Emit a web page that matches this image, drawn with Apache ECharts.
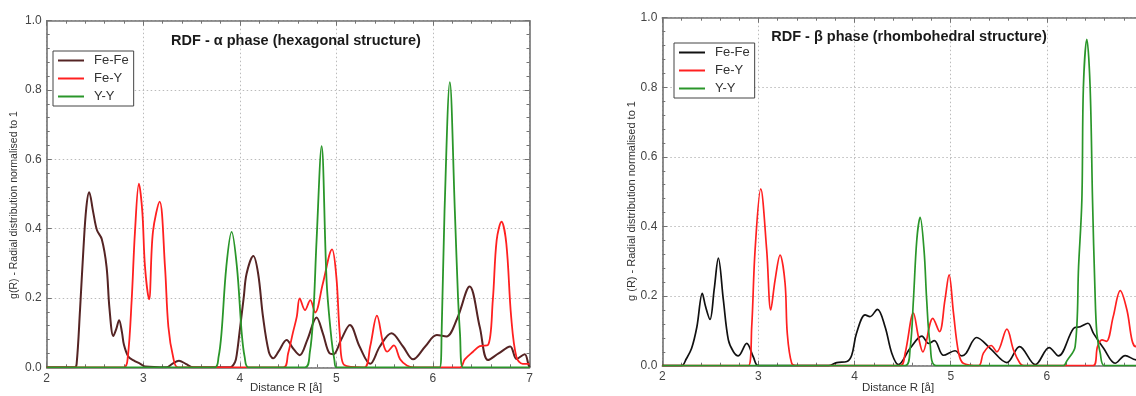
<!DOCTYPE html>
<html><head><meta charset="utf-8">
<script src="https://cdn.jsdelivr.net/npm/echarts@6/dist/echarts.min.js"></script>
<style>html,body{margin:0;padding:0;background:#fff}#c{width:1136px;height:396px}</style>
</head><body><div id="c"></div>
<script>
// ---- data ----
const xTicks = [2, 3, 4, 5, 6, 7];
const yTicks = [0.0, 0.2, 0.4, 0.6, 0.8, 1.0];
const seriesNames = ['Fe-Fe', 'Fe-Y', 'Y-Y'];
const titleAlpha = 'RDF - α phase (hexagonal structure)';
const titleBeta = 'RDF - β phase (rhombohedral structure)';
const yNameAlpha = 'g(R) - Radial distribution normalised to 1';
const yNameBeta = 'g (R) - Radial distribution normalised to 1';
const xName = 'Distance R [å]';

const alphaFeFe = [[2.0,0],[2.29,0],[2.31,0.01],[2.345,0.165],[2.38,0.34],[2.41,0.46],[2.44,0.505],[2.48,0.45],[2.52,0.396],[2.57,0.37],[2.62,0.29],[2.65,0.17],[2.69,0.09],[2.72,0.11],[2.75,0.136],[2.78,0.10],[2.80,0.065],[2.845,0.031],[2.90,0.02],[2.97,0.01],[3.02,0.002],[3.24,0],[3.30,0.01],[3.37,0.019],[3.44,0.01],[3.52,0],[3.90,0],[3.95,0.015],[3.97,0.04],[4.0,0.108],[4.04,0.2],[4.07,0.27],[4.14,0.321],[4.19,0.27],[4.24,0.146],[4.30,0.045],[4.345,0.026],[4.40,0.045],[4.485,0.079],[4.55,0.055],[4.62,0.035],[4.70,0.08],[4.795,0.144],[4.86,0.098],[4.93,0.04],[4.97,0.038],[5.05,0.08],[5.14,0.122],[5.24,0.06],[5.35,0.01],[5.45,0.06],[5.57,0.098],[5.69,0.06],[5.795,0.023],[5.92,0.06],[6.04,0.093],[6.14,0.089],[6.25,0.14],[6.38,0.233],[6.485,0.116],[6.57,0.021],[6.68,0.04],[6.80,0.06],[6.865,0.024],[6.95,0.038],[6.99,0.007],[7.0,0]];
const alphaFeY = [[2.0,0],[2.80,0],[2.84,0.03],[2.88,0.194],[2.914,0.39],[2.955,0.53],[2.99,0.45],[3.018,0.29],[3.06,0.196],[3.10,0.39],[3.17,0.478],[3.225,0.29],[3.26,0.117],[3.31,0.029],[3.36,0],[4.45,0],[4.50,0.04],[4.55,0.10],[4.59,0.146],[4.62,0.199],[4.675,0.165],[4.73,0.194],[4.78,0.158],[4.86,0.242],[4.955,0.34],[5.0,0.26],[5.035,0.098],[5.08,0.007],[5.29,0],[5.35,0.06],[5.42,0.149],[5.485,0.068],[5.525,0.045],[5.595,0.063],[5.66,0.023],[5.73,0.005],[5.8,0],[6.28,0],[6.33,0.023],[6.415,0.045],[6.485,0.061],[6.57,0.064],[6.62,0.194],[6.66,0.367],[6.71,0.42],[6.76,0.357],[6.81,0.146],[6.865,0.029],[6.93,0.01],[7.0,0.01]];
const alphaYY = [[2.0,0],[3.74,0],[3.78,0.03],[3.81,0.098],[3.86,0.29],[3.915,0.391],[3.97,0.29],[4.02,0.098],[4.05,0.03],[4.09,0],[4.675,0],[4.725,0.043],[4.76,0.146],[4.795,0.367],[4.847,0.638],[4.90,0.242],[4.95,0.079],[4.98,0.02],[5.0,0],[6.07,0],[6.09,0.1],[6.12,0.45],[6.175,0.823],[6.227,0.45],[6.26,0.2],[6.28,0.098],[6.31,0],[7.0,0]];

const betaFeFe = [[2.0,0],[2.20,0],[2.25,0.02],[2.305,0.05],[2.36,0.112],[2.416,0.208],[2.45,0.17],[2.496,0.133],[2.54,0.22],[2.583,0.309],[2.635,0.189],[2.687,0.074],[2.74,0.04],[2.79,0.028],[2.878,0.064],[2.947,0.025],[3.0,0],[3.73,0],[3.815,0.009],[3.92,0.012],[3.97,0.03],[4.02,0.093],[4.11,0.146],[4.16,0.141],[4.237,0.162],[4.317,0.112],[4.387,0.036],[4.456,0.003],[4.578,0.05],[4.70,0.085],[4.77,0.064],[4.83,0.072],[4.925,0.03],[5.046,0.043],[5.115,0.028],[5.16,0.036],[5.27,0.081],[5.41,0.05],[5.584,0.009],[5.716,0.055],[5.88,0.003],[6.024,0.052],[6.12,0.028],[6.277,0.107],[6.347,0.112],[6.427,0.122],[6.485,0.093],[6.59,0.05],[6.71,0.007],[6.815,0.029],[6.93,0.017],[7.0,0.02]];
const betaFeY = [[2.0,0],[2.895,0],[2.93,0.112],[2.965,0.332],[3.024,0.508],[3.086,0.332],[3.128,0.16],[3.173,0.246],[3.225,0.318],[3.277,0.237],[3.30,0.093],[3.346,0.007],[3.40,0],[4.473,0],[4.526,0.036],[4.612,0.151],[4.664,0.083],[4.71,0.04],[4.814,0.136],[4.883,0.098],[4.94,0.189],[4.983,0.261],[5.028,0.153],[5.08,0.04],[5.13,0.007],[5.29,0],[5.34,0.036],[5.42,0.058],[5.48,0.04],[5.584,0.105],[5.653,0.045],[5.72,0.007],[5.76,0],[6.48,0],[6.527,0.055],[6.573,0.074],[6.62,0.07],[6.69,0.141],[6.763,0.216],[6.833,0.16],[6.885,0.074],[6.92,0.055],[6.96,0.08],[7.0,0.12]];
const betaYY = [[2.0,0],[4.526,0],[4.578,0.05],[4.612,0.189],[4.647,0.361],[4.682,0.426],[4.723,0.33],[4.75,0.189],[4.785,0.064],[4.85,0],[6.17,0],[6.208,0.014],[6.294,0.055],[6.33,0.285],[6.364,0.476],[6.38,0.8],[6.416,0.938],[6.45,0.8],[6.475,0.476],[6.50,0.22],[6.52,0.093],[6.555,0.036],[6.6,0],[7.0,0]];

// ---- chart ----
const FONT = 'Liberation Sans, Arial, sans-serif';
const axisCol = '#727272';
const colors = { alphaFeFe: '#552424', betaFeFe: '#111111', feY: '#ff2020', yy: '#2a962a' };

function xAx(grid, pos, labels) {
  return {
    type: 'value', gridIndex: grid, position: pos, min: xTicks[0], max: xTicks[xTicks.length-1], interval: 1,
    axisLine: { show: true, onZero: false, lineStyle: { color: axisCol, width: 1.6 } },
    axisTick: { show: true, inside: true, length: 5, lineStyle: { color: axisCol } },
    minorTick: { show: true, splitNumber: 5, length: 3, lineStyle: { color: axisCol } },
    axisLabel: { show: labels, color: '#444', fontSize: 12, fontFamily: FONT, margin: 5 },
    splitLine: { show: labels, lineStyle: { color: '#bbbbbb', type: [1.5, 2.5], width: 1 } }
  };
}
function yAx(grid, pos, labels) {
  return {
    type: 'value', gridIndex: grid, position: pos, min: yTicks[0], max: yTicks[yTicks.length-1], interval: 0.2,
    axisLine: { show: true, onZero: false, lineStyle: { color: axisCol, width: 1.6 } },
    axisTick: { show: true, inside: true, length: 5, lineStyle: { color: axisCol } },
    minorTick: { show: true, splitNumber: 5, length: 3, lineStyle: { color: axisCol } },
    axisLabel: { show: labels, color: '#444', fontSize: 12, fontFamily: FONT, margin: 5, formatter: v => v.toFixed(1) },
    splitLine: { show: labels, lineStyle: { color: '#bbbbbb', type: [1.5, 2.5], width: 1 } }
  };
}
function line(name, data, xi, yi, color, w) {
  return { type: 'line', name, data, xAxisIndex: xi, yAxisIndex: yi, smooth: 0.35, showSymbol: false, symbol: 'none',
    lineStyle: { color, width: w }, itemStyle: { color }, animation: false, clip: true, z: 3 };
}
const SUF = ' (β)';
function legend(left, top, suffix) {
  return {
    orient: 'vertical', left, top, data: seriesNames.map(n => n + suffix),
    formatter: n => n.replace(SUF, ''),
    itemWidth: 26, itemHeight: 14, itemGap: 5, padding: [3, 5, 3, 4],
    itemStyle: { opacity: 0 },
    borderColor: '#444', borderWidth: 1, backgroundColor: '#fff',
    textStyle: { fontSize: 13, color: '#333', fontFamily: FONT, padding: [0, 0, 0, 5] },
    selectedMode: false
  };
}

const chart = echarts.init(document.getElementById('c'), null, { renderer: 'canvas' });
chart.setOption({
  animation: false,
  backgroundColor: '#fff',
  title: [
    { text: titleAlpha, left: 291, top: 28, textAlign: 'center', textStyle: { fontSize: 14.5, fontWeight: 'bold', color: '#1a1a1a', fontFamily: FONT } },
    { text: titleBeta, left: 904, top: 24, textAlign: 'center', textStyle: { fontSize: 14.5, fontWeight: 'bold', color: '#1a1a1a', fontFamily: FONT } }
  ],
  legend: [legend(53, 51, ''), legend(674, 43, SUF)],
  grid: [
    { left: 46.7, top: 20.7, width: 482.8, height: 346.6, outerBoundsMode: 'none' },
    { left: 662.3, top: 17.7, width: 480.7, height: 348, outerBoundsMode: 'none' }
  ],
  xAxis: [xAx(0, 'bottom', true), xAx(0, 'top', false), xAx(1, 'bottom', true), xAx(1, 'top', false)],
  yAxis: [yAx(0, 'left', true), yAx(0, 'right', false), yAx(1, 'left', true), yAx(1, 'right', false)],
  series: [
    line('Fe-Fe', alphaFeFe, 0, 0, colors.alphaFeFe, 2),
    line('Fe-Y', alphaFeY, 0, 0, colors.feY, 1.8),
    line('Y-Y', alphaYY, 0, 0, colors.yy, 1.8),
    line('Fe-Fe' + SUF, betaFeFe, 2, 2, colors.betaFeFe, 1.7),
    line('Fe-Y' + SUF, betaFeY, 2, 2, colors.feY, 1.7),
    line('Y-Y' + SUF, betaYY, 2, 2, colors.yy, 1.7)
  ],
  graphic: [
    { type: 'text', x: 14, y: 205, rotation: Math.PI / 2, style: { text: yNameAlpha, fontSize: 10.5, fill: '#333', fontFamily: FONT, align: 'center', verticalAlign: 'middle' } },
    { type: 'text', x: 632, y: 201, rotation: Math.PI / 2, style: { text: yNameBeta, fontSize: 11, fill: '#333', fontFamily: FONT, align: 'center', verticalAlign: 'middle' } },
    { type: 'text', x: 286, y: 388, style: { text: xName, fontSize: 11.5, fill: '#333', fontFamily: FONT, align: 'center', verticalAlign: 'middle' } },
    { type: 'text', x: 898, y: 388, style: { text: xName, fontSize: 11.5, fill: '#333', fontFamily: FONT, align: 'center', verticalAlign: 'middle' } }
  ]
});
</script></body></html>
